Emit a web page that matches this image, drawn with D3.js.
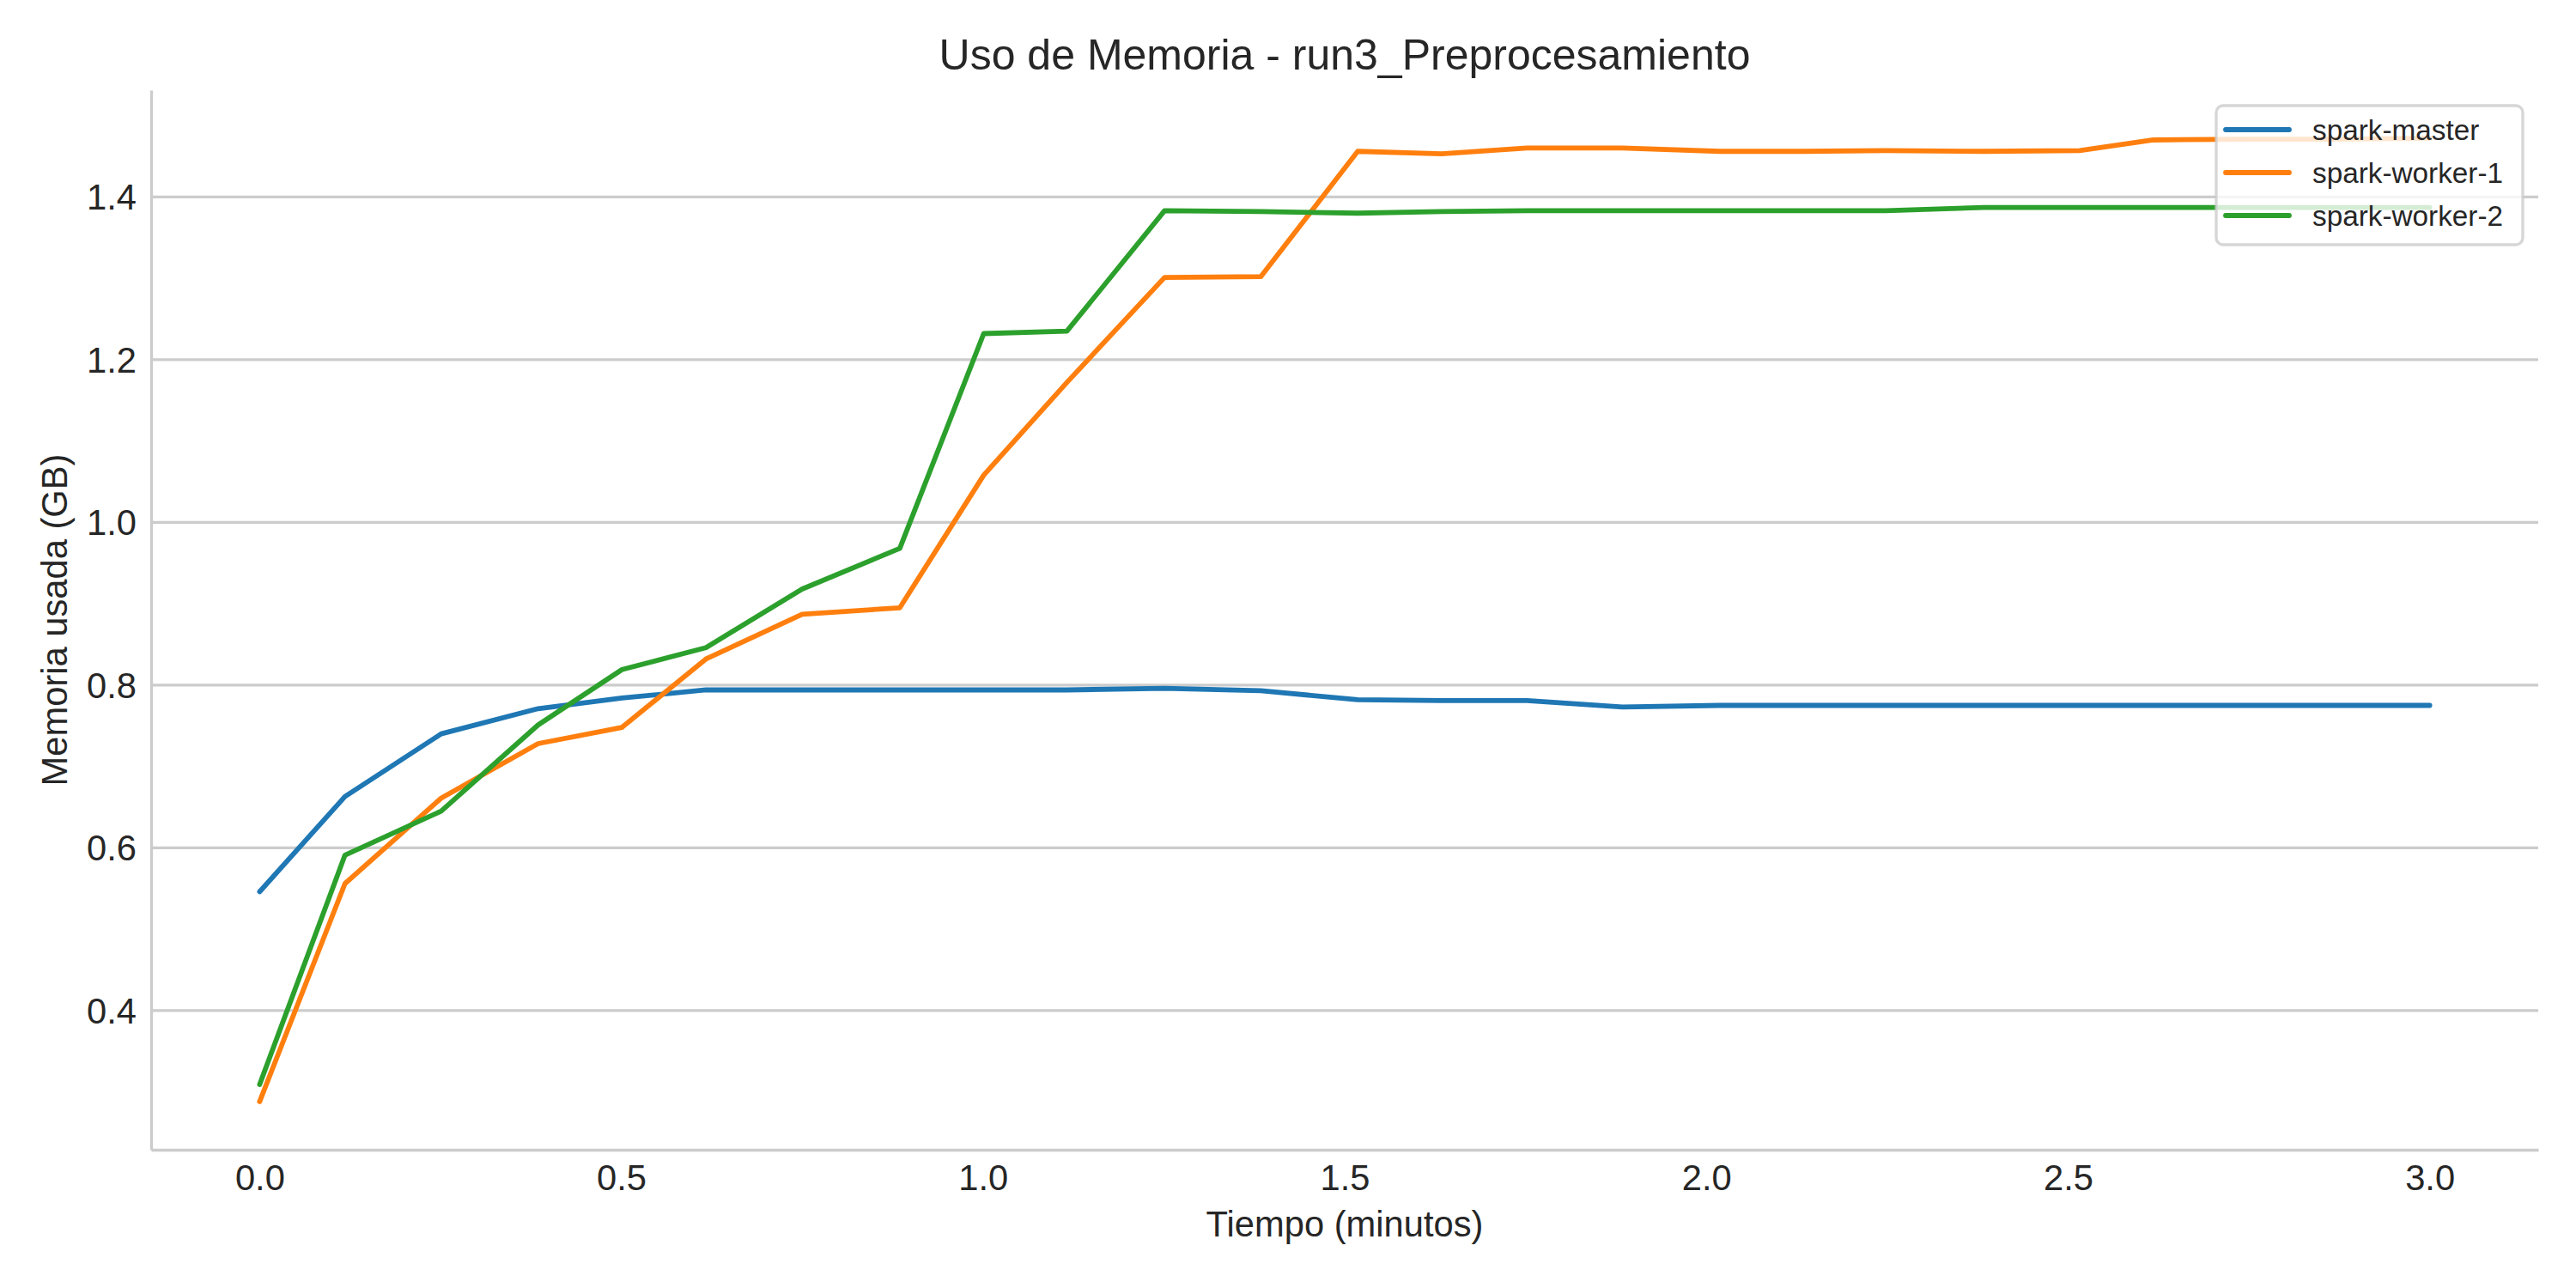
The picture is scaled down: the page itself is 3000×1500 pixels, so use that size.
<!DOCTYPE html>
<html>
<head>
<meta charset="utf-8">
<script src="https://cdn.jsdelivr.net/npm/d3@7"></script>
<style>
  body { margin: 0; background: #fff; }
  text { font-family: "Liberation Sans", Arial, sans-serif; fill: #262626; }
</style>
</head>
<body>
<div id="chart"></div>
<script>
// tiempo en minutos
const times = [0, 0.118, 0.251, 0.385, 0.501, 0.617, 0.750, 0.885, 1.001, 1.116, 1.251, 1.384, 1.518,
  1.634, 1.752, 1.884, 2.019, 2.133, 2.248, 2.384, 2.516, 2.618, 2.750, 2.870, 3.0]

const masterMem = [0.546, 0.663, 0.740, 0.771, 0.784, 0.794, 0.794, 0.794, 0.794, 0.794, 0.796, 0.793, 0.782,
  0.781, 0.781, 0.773, 0.775, 0.775, 0.775, 0.775, 0.775, 0.775, 0.775, 0.775, 0.775]
const worker1Mem = [0.288, 0.556, 0.661, 0.728, 0.748, 0.832, 0.887, 0.895, 1.058, 1.172, 1.301, 1.302, 1.456,
  1.453, 1.460, 1.460, 1.456, 1.456, 1.457, 1.456, 1.457, 1.470, 1.471, 1.471, 1.472]
const worker2Mem = [0.309, 0.591, 0.645, 0.751, 0.819, 0.846, 0.918, 0.968, 1.232, 1.235, 1.383, 1.382, 1.380,
  1.382, 1.383, 1.383, 1.383, 1.383, 1.383, 1.387, 1.387, 1.387, 1.387, 1.387, 1.387]

const seriesNames = ["spark-master", "spark-worker-1", "spark-worker-2"]
const seriesColors = ["#1f77b4", "#ff7f0e", "#2ca02c"]
const xTicks = [0, 0.5, 1.0, 1.5, 2.0, 2.5, 3.0]
const yTicks = [0.4, 0.6, 0.8, 1.0, 1.2, 1.4]

const series = [masterMem, worker1Mem, worker2Mem].map((vals, i) => ({
  name: seriesNames[i],
  color: seriesColors[i],
  points: vals.map((v, j) => ({ t: times[j], v: v }))
}))

var width = 3000, height = 1500
// area del grafico (no usar "top", choca con window.top)
var plotL = 176, plotR = 2956, plotT = 105, plotB = 1339

var svg = d3.select("#chart").append("svg")
  .attr("width", width)
  .attr("height", height)

// márgenes de 5% como matplotlib
var tExt = d3.extent(times)
var allV = masterMem.concat(worker1Mem, worker2Mem)
var vExt = d3.extent(allV)
var tPad = (tExt[1] - tExt[0]) * 0.05
var vPad = (vExt[1] - vExt[0]) * 0.05

var x = d3.scaleLinear().domain([tExt[0] - tPad, tExt[1] + tPad]).range([plotL, plotR])
var y = d3.scaleLinear().domain([vExt[0] - vPad, vExt[1] + vPad]).range([plotB, plotT])

// grid horizontal
svg.append("g")
  .selectAll("line")
  .data(yTicks)
  .enter()
  .append("line")
    .attr("x1", plotL)
    .attr("x2", plotR)
    .attr("y1", d => y(d))
    .attr("y2", d => y(d))
    .attr("stroke", "#cccccc")
    .attr("stroke-width", 3.3)

// ejes
var yAxis = svg.append("g")
  .attr("transform", "translate(" + plotL + ",0)")
  .call(d3.axisLeft(y).tickValues(yTicks).tickFormat(d3.format(".1f")).tickSize(0).tickPadding(17))
var xAxis = svg.append("g")
  .attr("transform", "translate(0," + plotB + ")")
  .call(d3.axisBottom(x).tickValues(xTicks).tickFormat(d3.format(".1f")).tickSize(0).tickPadding(17))

;[xAxis, yAxis].forEach(ax => {
  ax.select(".domain").attr("stroke", "#cccccc").attr("stroke-width", 3.3)
  ax.selectAll("text")
    .style("font-size", "41.7px")
    .style("font-family", "'Liberation Sans', Arial, sans-serif")
    .attr("fill", "#262626")
})
yAxis.selectAll("text").attr("dy", "0.35em")
xAxis.selectAll("text").attr("dy", "0.72em")

// líneas
var line = d3.line()
  .x(d => x(d.t))
  .y(d => y(d.v))

svg.append("g")
  .selectAll("path")
  .data(series)
  .enter()
  .append("path")
    .attr("d", d => line(d.points))
    .attr("fill", "none")
    .attr("stroke", d => d.color)
    .attr("stroke-width", 5.8)
    .attr("stroke-linejoin", "round")
    .attr("stroke-linecap", "round")

// títulos
svg.append("text")
  .attr("x", (plotL + plotR) / 2)
  .attr("y", 81)
  .attr("text-anchor", "middle")
  .style("font-size", "50px")
  .text("Uso de Memoria - run3_Preprocesamiento")

svg.append("text")
  .attr("x", (plotL + plotR) / 2)
  .attr("y", 1440)
  .attr("text-anchor", "middle")
  .style("font-size", "41.7px")
  .text("Tiempo (minutos)")

svg.append("text")
  .attr("transform", "translate(78," + (plotT + plotB) / 2 + ") rotate(-90)")
  .attr("text-anchor", "middle")
  .style("font-size", "41.7px")
  .text("Memoria usada (GB)")

// leyenda
var legend = svg.append("g").attr("transform", "translate(2581,123)")
legend.append("rect")
  .attr("width", 357)
  .attr("height", 162)
  .attr("rx", 8)
  .attr("fill", "white")
  .attr("fill-opacity", 0.8)
  .attr("stroke", "#cccccc")
  .attr("stroke-opacity", 0.8)
  .attr("stroke-width", 3.3)

var rows = legend.selectAll("g.item")
  .data(series)
  .enter()
  .append("g")
    .attr("class", "item")
    .attr("transform", (d, i) => "translate(0," + (28 + i * 50) + ")")
rows.append("line")
  .attr("x1", 11)
  .attr("x2", 85)
  .attr("stroke", d => d.color)
  .attr("stroke-width", 5.8)
  .attr("stroke-linecap", "round")
rows.append("text")
  .attr("x", 112)
  .attr("dy", "0.35em")
  .style("font-size", "33.3px")
  .text(d => d.name)
</script>
</body>
</html>
